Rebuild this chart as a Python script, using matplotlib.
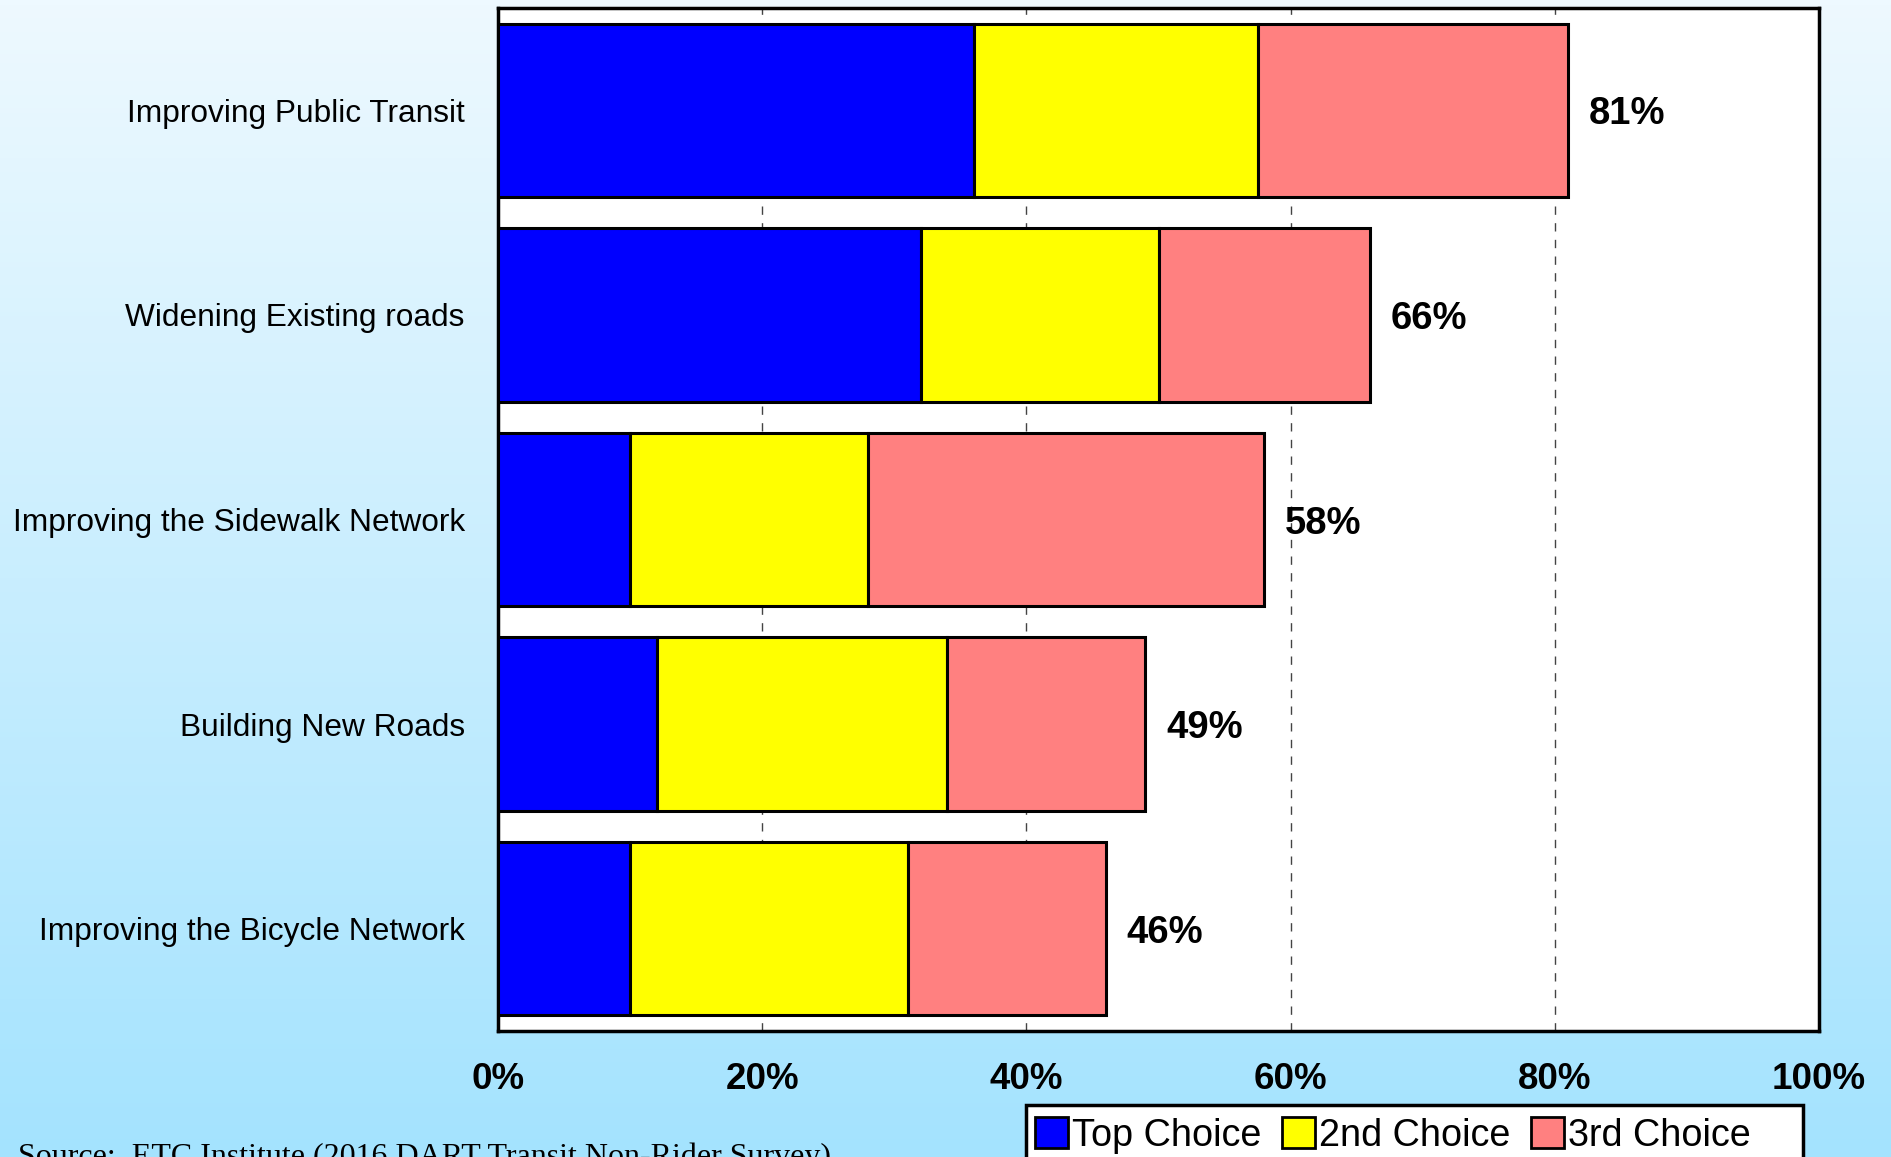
import numpy as np
import matplotlib.pyplot as plt
from matplotlib.patches import Patch, Rectangle

# Survey responses: share of respondents ranking each option 1st/2nd/3rd
categories = [
    "Improving Public Transit",
    "Widening Existing roads",
    "Improving the Sidewalk Network",
    "Building New Roads",
    "Improving the Bicycle Network",
]
top_choice = [36, 32, 10, 12, 10]
second_choice = [21.5, 18, 18, 22, 21]
third_choice = [23.5, 16, 30, 15, 15]
series_names = ["Top Choice", "2nd Choice", "3rd Choice"]
series_colors = ["#0000FF", "#FFFF00", "#FF8080"]
x_ticks = [0, 20, 40, 60, 80, 100]
source_note = "Source:  ETC Institute (2016 DART Transit Non-Rider Survey)"

plt.rcParams["font.family"] = ["Liberation Sans", "DejaVu Sans"]

W, H = 1891, 1157
fig = plt.figure(figsize=(W / 100, H / 100), dpi=100)

# Vertical light-blue gradient background
bg = fig.add_axes([0, 0, 1, 1], zorder=-10)
top_rgb = np.array([238, 249, 255]) / 255
bot_rgb = np.array([164, 227, 254]) / 255
t = np.linspace(0, 1, 256)[:, None]
grad = top_rgb[None, :] * (1 - t) + bot_rgb[None, :] * t
bg.imshow(grad[:, None, :], aspect="auto", extent=[0, 1, 0, 1])
bg.set_axis_off()

ax = fig.add_axes([498 / W, 1 - 1031 / H, (1819 - 498) / W, (1031 - 8) / H])
ax.set_facecolor("white")

y = np.arange(len(categories))
left = np.zeros(len(categories))
for vals, name, col in zip([top_choice, second_choice, third_choice], series_names, series_colors):
    ax.barh(y, vals, left=left, height=0.848, color=col, edgecolor="black",
            linewidth=2.2, label=name, zorder=3)
    left = left + np.array(vals)

totals = left
for yi, tot in zip(y, totals):
    ax.annotate(f"{tot:.0f}%", xy=(tot, yi), xytext=(15, 0), textcoords="offset points",
                ha="left", va="center_baseline", fontsize=27.5, fontweight="bold", zorder=5)

ax.set_xlim(0, 100)
ax.set_ylim(len(categories) - 0.5, -0.5)
ax.set_xticks(x_ticks)
ax.set_xticklabels([f"{v}%" for v in x_ticks], fontsize=26.5, fontweight="bold")
ax.set_yticks(y)
ax.set_yticklabels(categories, fontsize=22.8)
ax.tick_params(axis="both", length=0)
ax.tick_params(axis="x", pad=22)
ax.tick_params(axis="y", pad=24)
ax.xaxis.grid(True, linestyle=(0, (6, 6)), color="#444444", linewidth=1.0, zorder=0)
ax.set_axisbelow(True)
for s in ax.spines.values():
    s.set_linewidth(2.5)
    s.set_color("black")

# Legend box below the plot, running off the bottom edge
fig.patches.append(Rectangle((1026 / W, -0.05), (1803 - 1026) / W, 0.05 + 1 - 1105 / H,
                             transform=fig.transFigure, facecolor="white",
                             edgecolor="black", linewidth=2.5, zorder=1))
handles = [Patch(facecolor=c, edgecolor="black", linewidth=2) for c in series_colors]
leg = fig.legend(handles, series_names, loc="upper left",
                 bbox_to_anchor=(1026 / W, 1 - 1108 / H), ncol=3, fontsize=27.2,
                 frameon=False, handlelength=0.87, handleheight=0.87, handletextpad=0.1,
                 columnspacing=0.55, borderpad=0.25, borderaxespad=0)
leg.set_zorder(2)

fig.text(18 / W, 1 - 1165 / H, source_note, family=["Liberation Serif", "DejaVu Serif"],
         fontsize=23, ha="left", va="baseline")

fig.savefig("out.png", dpi=100)
